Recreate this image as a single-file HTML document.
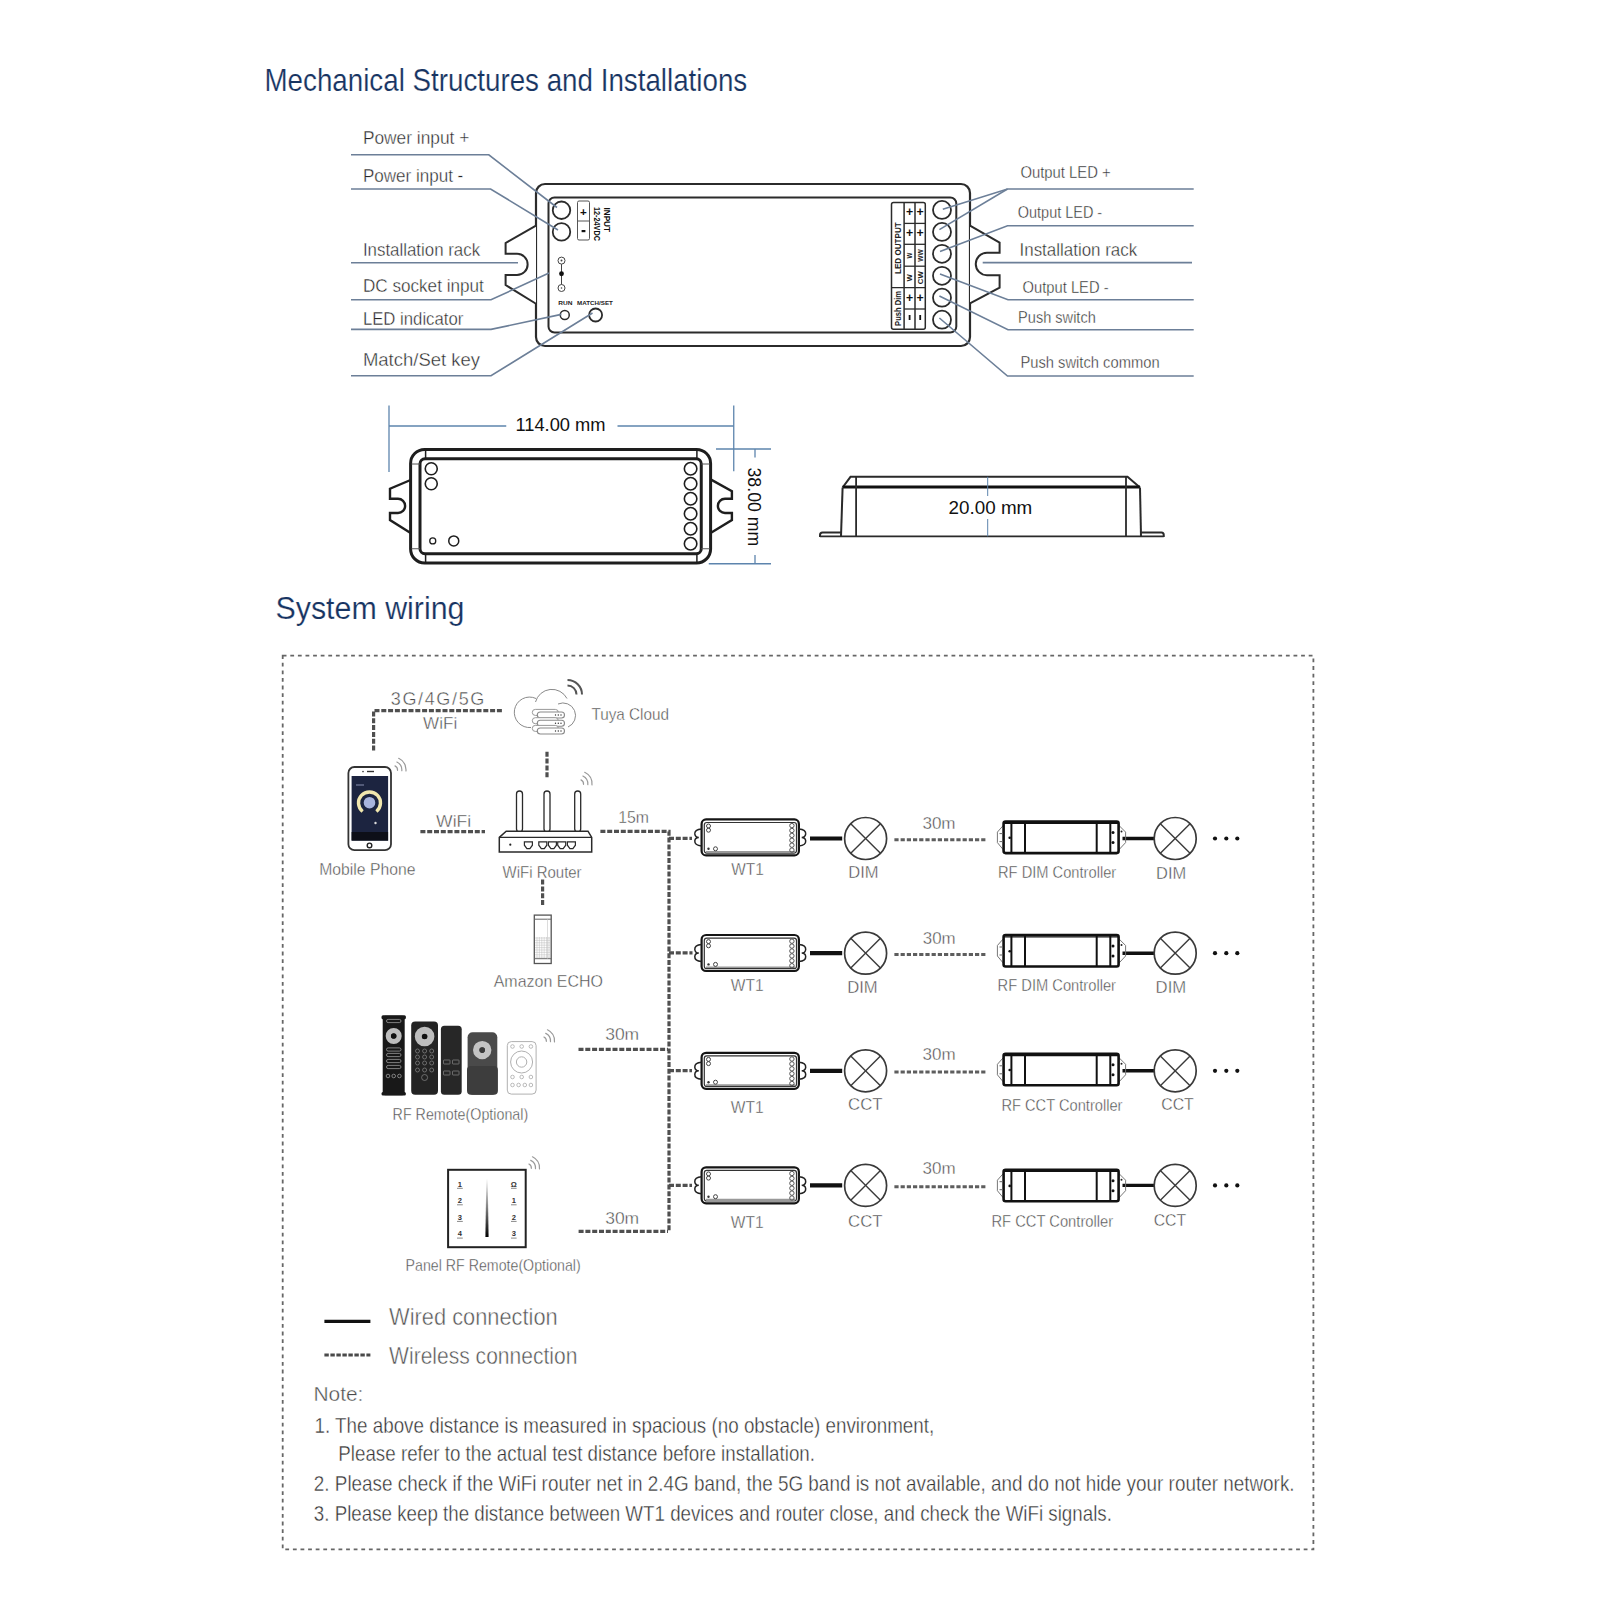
<!DOCTYPE html>
<html><head><meta charset="utf-8"><title>Mechanical Structures and System wiring</title>
<style>
html,body{margin:0;padding:0;background:#fff;}
body{width:1600px;height:1599px;overflow:hidden;}
svg{display:block;font-family:"Liberation Sans",sans-serif;}
</style></head><body>
<svg width="1600" height="1599" viewBox="0 0 1600 1599">
<rect x="0" y="0" width="1600" height="1599" fill="#fff"/>
<text x="264.5" y="90.6" font-size="31.10" fill="#173462" font-weight="normal" text-anchor="start" textLength="482.7" lengthAdjust="spacingAndGlyphs" stroke="#fff" stroke-width="0.2" >Mechanical Structures and Installations</text>
<text x="275.5" y="619.1" font-size="30.67" fill="#173462" font-weight="normal" text-anchor="start" textLength="189.0" lengthAdjust="spacingAndGlyphs" stroke="#fff" stroke-width="0.2" >System wiring</text>
<text x="362.9" y="144.4" font-size="18.90" fill="#262626" font-weight="normal" text-anchor="start" textLength="106.4" lengthAdjust="spacingAndGlyphs" stroke="#fff" stroke-width="0.4" >Power input +</text>
<text x="362.9" y="181.9" font-size="18.90" fill="#262626" font-weight="normal" text-anchor="start" textLength="100.4" lengthAdjust="spacingAndGlyphs" stroke="#fff" stroke-width="0.4" >Power input -</text>
<text x="362.9" y="255.7" font-size="18.90" fill="#262626" font-weight="normal" text-anchor="start" textLength="117.2" lengthAdjust="spacingAndGlyphs" stroke="#fff" stroke-width="0.4" >Installation rack</text>
<text x="362.9" y="292.3" font-size="18.90" fill="#262626" font-weight="normal" text-anchor="start" textLength="120.9" lengthAdjust="spacingAndGlyphs" stroke="#fff" stroke-width="0.4" >DC socket input</text>
<text x="362.9" y="325.3" font-size="18.90" fill="#262626" font-weight="normal" text-anchor="start" textLength="100.4" lengthAdjust="spacingAndGlyphs" stroke="#fff" stroke-width="0.4" >LED indicator</text>
<text x="362.9" y="366.0" font-size="18.90" fill="#262626" font-weight="normal" text-anchor="start" textLength="117.2" lengthAdjust="spacingAndGlyphs" stroke="#fff" stroke-width="0.4" >Match/Set key</text>
<text x="1020.4" y="178.2" font-size="17.15" fill="#262626" font-weight="normal" text-anchor="start" textLength="90.4" lengthAdjust="spacingAndGlyphs" stroke="#fff" stroke-width="0.4" >Output LED +</text>
<text x="1017.8" y="218.3" font-size="17.15" fill="#262626" font-weight="normal" text-anchor="start" textLength="84.4" lengthAdjust="spacingAndGlyphs" stroke="#fff" stroke-width="0.4" >Output LED -</text>
<text x="1019.5" y="255.8" font-size="18.90" fill="#262626" font-weight="normal" text-anchor="start" textLength="117.7" lengthAdjust="spacingAndGlyphs" stroke="#fff" stroke-width="0.4" >Installation rack</text>
<text x="1022.6" y="293.4" font-size="17.15" fill="#262626" font-weight="normal" text-anchor="start" textLength="86.0" lengthAdjust="spacingAndGlyphs" stroke="#fff" stroke-width="0.4" >Output LED -</text>
<text x="1018.1" y="323.4" font-size="17.15" fill="#262626" font-weight="normal" text-anchor="start" textLength="77.7" lengthAdjust="spacingAndGlyphs" stroke="#fff" stroke-width="0.4" >Push switch</text>
<text x="1020.4" y="367.7" font-size="17.15" fill="#262626" font-weight="normal" text-anchor="start" textLength="139.2" lengthAdjust="spacingAndGlyphs" stroke="#fff" stroke-width="0.4" >Push switch common</text>
<rect x="536" y="184" width="434" height="162" rx="9" stroke="#2b2b2b" stroke-width="2.2" fill="none" />
<rect x="548.5" y="197.5" width="407.8" height="135" rx="6" stroke="#2b2b2b" stroke-width="2.0" fill="none" />
<path d="M536,225.6 L505.6,243 L505.6,253.75 L517,253.75 A10.6,10.6 0 0 1 517,275 L505.6,275 L505.6,285 L536,303.75" stroke="#2b2b2b" stroke-width="2.0" fill="#fff" />
<path d="M970,225.7 L999.6,242.6 L999.6,252.7 L987,252.7 A11.25,11.25 0 0 0 987,275.2 L999.6,275.2 L999.6,287.6 L970,303.4" stroke="#2b2b2b" stroke-width="2.0" fill="#fff" />
<circle cx="561.5" cy="210.25" r="8.75" stroke="#2b2b2b" stroke-width="1.8" fill="none" />
<circle cx="561.5" cy="231.9" r="8.75" stroke="#2b2b2b" stroke-width="1.8" fill="none" />
<rect x="577.5" y="201" width="12" height="39" rx="1.5" stroke="#555" stroke-width="1.0" fill="none" />
<line x1="577.5" y1="221" x2="589.5" y2="221" stroke="#555" stroke-width="1.0" />
<text x="583.5" y="215.5" font-size="11.63" fill="#111" font-weight="bold" text-anchor="middle" >+</text>
<rect x="581.6" y="230" width="3.8" height="2.2" rx="0" stroke="none" stroke-width="0" fill="#111" />
<text transform="translate(604.4,207.5) rotate(90)" x="0" y="0" font-size="8.14" fill="#111" font-weight="bold" textLength="24.5" lengthAdjust="spacingAndGlyphs">INPUT</text>
<text transform="translate(593.8,207.0) rotate(90)" x="0" y="0" font-size="8.14" fill="#111" font-weight="bold" textLength="34.0" lengthAdjust="spacingAndGlyphs">12-24VDC</text>
<circle cx="561.5" cy="260.6" r="3.5" stroke="#444" stroke-width="1.0" fill="none" />
<circle cx="561.5" cy="260.6" r="1.0" stroke="none" stroke-width="0" fill="#444" />
<circle cx="561.5" cy="288" r="3.5" stroke="#444" stroke-width="1.0" fill="none" />
<circle cx="561.5" cy="288" r="0.8" stroke="none" stroke-width="0" fill="#444" />
<line x1="561.5" y1="264.1" x2="561.5" y2="284.5" stroke="#444" stroke-width="1.0" />
<circle cx="561.5" cy="273.75" r="2.4" stroke="none" stroke-width="0" fill="#111" />
<text x="558.2" y="305.2" font-size="6.25" fill="#222" font-weight="bold" text-anchor="start" textLength="14.2" lengthAdjust="spacingAndGlyphs" >RUN</text>
<text x="577.0" y="305.2" font-size="6.25" fill="#222" font-weight="bold" text-anchor="start" textLength="35.9" lengthAdjust="spacingAndGlyphs" >MATCH/SET</text>
<circle cx="564.75" cy="315" r="4.5" stroke="#2b2b2b" stroke-width="1.5" fill="none" />
<circle cx="595.6" cy="315" r="6.5" stroke="#2b2b2b" stroke-width="1.8" fill="none" />
<rect x="891.5" y="202.6" width="33.8" height="126.7" rx="2" stroke="#2b2b2b" stroke-width="1.5" fill="none" />
<line x1="904.1" y1="202.6" x2="904.1" y2="329.3" stroke="#2b2b2b" stroke-width="1.5" />
<line x1="915" y1="202.6" x2="915" y2="329.3" stroke="#2b2b2b" stroke-width="1.5" />
<line x1="904.1" y1="223.4" x2="925.3" y2="223.4" stroke="#2b2b2b" stroke-width="1.3" />
<line x1="904.1" y1="244.3" x2="925.3" y2="244.3" stroke="#2b2b2b" stroke-width="1.3" />
<line x1="904.1" y1="266.2" x2="925.3" y2="266.2" stroke="#2b2b2b" stroke-width="1.3" />
<line x1="904.1" y1="309" x2="925.3" y2="309" stroke="#2b2b2b" stroke-width="1.3" />
<line x1="891.5" y1="287.6" x2="925.3" y2="287.6" stroke="#2b2b2b" stroke-width="1.3" />
<text x="909.6" y="216.2" font-size="12.35" fill="#111" font-weight="bold" text-anchor="middle" >+</text>
<text x="909.6" y="237.2" font-size="12.35" fill="#111" font-weight="bold" text-anchor="middle" >+</text>
<text x="909.6" y="301.5" font-size="12.35" fill="#111" font-weight="bold" text-anchor="middle" >+</text>
<rect x="908.7" y="315" width="1.8" height="5" rx="0" stroke="none" stroke-width="0" fill="#111" />
<text x="920.2" y="216.2" font-size="12.35" fill="#111" font-weight="bold" text-anchor="middle" >+</text>
<text x="920.2" y="237.2" font-size="12.35" fill="#111" font-weight="bold" text-anchor="middle" >+</text>
<text x="920.2" y="301.5" font-size="12.35" fill="#111" font-weight="bold" text-anchor="middle" >+</text>
<rect x="919.3000000000001" y="315" width="1.8" height="5" rx="0" stroke="none" stroke-width="0" fill="#111" />
<text transform="translate(901.1,274.0) rotate(-90)" x="0" y="0" font-size="8.14" fill="#222" font-weight="bold" textLength="51.7" lengthAdjust="spacingAndGlyphs">LED OUTPUT</text>
<text transform="translate(901.1,325.9) rotate(-90)" x="0" y="0" font-size="8.14" fill="#222" font-weight="bold" textLength="34.9" lengthAdjust="spacingAndGlyphs">Push Dim</text>
<text transform="translate(912.4,258.5) rotate(-90)" x="0" y="0" font-size="7.56" fill="#222" font-weight="bold" textLength="5.8" lengthAdjust="spacingAndGlyphs">W</text>
<text transform="translate(912.4,281.4) rotate(-90)" x="0" y="0" font-size="7.56" fill="#222" font-weight="bold" textLength="7.3" lengthAdjust="spacingAndGlyphs">W</text>
<text transform="translate(923.0,261.7) rotate(-90)" x="0" y="0" font-size="7.85" fill="#222" font-weight="bold" textLength="12.4" lengthAdjust="spacingAndGlyphs">WW</text>
<text transform="translate(923.0,284.2) rotate(-90)" x="0" y="0" font-size="7.85" fill="#222" font-weight="bold" textLength="12.9" lengthAdjust="spacingAndGlyphs">CW</text>
<circle cx="942" cy="209.9" r="9" stroke="#2b2b2b" stroke-width="1.8" fill="none" />
<circle cx="942" cy="231.9" r="9" stroke="#2b2b2b" stroke-width="1.8" fill="none" />
<circle cx="942" cy="253.8" r="9" stroke="#2b2b2b" stroke-width="1.8" fill="none" />
<circle cx="942" cy="275.8" r="9" stroke="#2b2b2b" stroke-width="1.8" fill="none" />
<circle cx="942" cy="297.7" r="9" stroke="#2b2b2b" stroke-width="1.8" fill="none" />
<circle cx="942" cy="319.7" r="9" stroke="#2b2b2b" stroke-width="1.8" fill="none" />
<path d="M351,154.8 L488.8,154.8 L557,207.5" stroke="#6c7f98" stroke-width="1.6" fill="none" />
<path d="M351,189 L490.6,189 L558,230" stroke="#6c7f98" stroke-width="1.6" fill="none" />
<path d="M351,262.8 L518,262.8" stroke="#6c7f98" stroke-width="1.6" fill="none" />
<path d="M351,299.8 L491,299.8 L549,273" stroke="#6c7f98" stroke-width="1.6" fill="none" />
<path d="M351,329.4 L491,329.4 L561.4,314.4" stroke="#6c7f98" stroke-width="1.6" fill="none" />
<path d="M351,375.7 L491,375.7 L592.5,313" stroke="#6c7f98" stroke-width="1.6" fill="none" />
<path d="M942.8,209.3 L1007.5,189 L1193.7,189" stroke="#6c7f98" stroke-width="1.6" fill="none" />
<path d="M939.4,229.6 L1007.5,189" stroke="#6c7f98" stroke-width="1.6" fill="none" />
<path d="M940,251.6 L1007.5,225.8 L1193.7,225.8" stroke="#6c7f98" stroke-width="1.6" fill="none" />
<path d="M982.7,262.6 L1192,262.6" stroke="#6c7f98" stroke-width="1.6" fill="none" />
<path d="M940,274.1 L1008,299.7 L1193.7,299.7" stroke="#6c7f98" stroke-width="1.6" fill="none" />
<path d="M939.4,296 L1008,329.7 L1193.7,329.7" stroke="#6c7f98" stroke-width="1.6" fill="none" />
<path d="M939.4,318 L1007.5,376 L1193.7,376" stroke="#6c7f98" stroke-width="1.6" fill="none" />
<path d="M389,405.6 L389,471.9" stroke="#5d84ad" stroke-width="1.3" fill="none" />
<path d="M733.75,405.6 L733.75,471.25" stroke="#5d84ad" stroke-width="1.3" fill="none" />
<path d="M389,426 L506.25,426" stroke="#5d84ad" stroke-width="1.3" fill="none" />
<path d="M617.5,426 L733.75,426" stroke="#5d84ad" stroke-width="1.3" fill="none" />
<path d="M716,449 L771,449" stroke="#5d84ad" stroke-width="1.3" fill="none" />
<path d="M708.75,563.75 L771,563.75" stroke="#5d84ad" stroke-width="1.3" fill="none" />
<path d="M755,449 L755,457.5" stroke="#5d84ad" stroke-width="1.3" fill="none" />
<path d="M755,555 L755,563.75" stroke="#5d84ad" stroke-width="1.3" fill="none" />
<text x="515.4" y="431.2" font-size="18.17" fill="#111" font-weight="normal" text-anchor="start" textLength="90.2" lengthAdjust="spacingAndGlyphs" >114.00 mm</text>
<text transform="translate(748.0,467.5) rotate(90)" x="0" y="0" font-size="18.17" fill="#111" font-weight="normal" textLength="78.8" lengthAdjust="spacingAndGlyphs">38.00 mm</text>
<rect x="410.6" y="449.4" width="300" height="113.6" rx="14" stroke="#1e1e1e" stroke-width="3.0" fill="none" />
<rect x="420" y="458.75" width="281.25" height="95" rx="5" stroke="#1e1e1e" stroke-width="3.0" fill="none" />
<line x1="425.6" y1="449.4" x2="425.6" y2="458.75" stroke="#1e1e1e" stroke-width="1.5" />
<line x1="425.6" y1="553.75" x2="425.6" y2="563" stroke="#1e1e1e" stroke-width="1.5" />
<line x1="696.9" y1="449.4" x2="696.9" y2="458.75" stroke="#1e1e1e" stroke-width="1.5" />
<line x1="696.9" y1="553.75" x2="696.9" y2="563" stroke="#1e1e1e" stroke-width="1.5" />
<line x1="411.5" y1="464" x2="420" y2="464" stroke="#555" stroke-width="1.0" />
<line x1="411.5" y1="548.75" x2="420" y2="548.75" stroke="#555" stroke-width="1.0" />
<line x1="701.25" y1="464" x2="709.7" y2="464" stroke="#555" stroke-width="1.0" />
<line x1="701.25" y1="548.75" x2="709.7" y2="548.75" stroke="#555" stroke-width="1.0" />
<circle cx="431.25" cy="468.75" r="6" stroke="#1e1e1e" stroke-width="1.6" fill="none" />
<circle cx="431.25" cy="483.75" r="6" stroke="#1e1e1e" stroke-width="1.6" fill="none" />
<circle cx="432.75" cy="540.9" r="3" stroke="#1e1e1e" stroke-width="1.3" fill="none" />
<circle cx="453.75" cy="540.9" r="5" stroke="#1e1e1e" stroke-width="1.5" fill="none" />
<circle cx="690.6" cy="468.75" r="6.25" stroke="#1e1e1e" stroke-width="1.6" fill="none" />
<circle cx="690.6" cy="483.75" r="6.25" stroke="#1e1e1e" stroke-width="1.6" fill="none" />
<circle cx="690.6" cy="498.75" r="6.25" stroke="#1e1e1e" stroke-width="1.6" fill="none" />
<circle cx="690.6" cy="513.75" r="6.25" stroke="#1e1e1e" stroke-width="1.6" fill="none" />
<circle cx="690.6" cy="528.75" r="6.25" stroke="#1e1e1e" stroke-width="1.6" fill="none" />
<circle cx="690.6" cy="543.75" r="6.25" stroke="#1e1e1e" stroke-width="1.6" fill="none" />
<path d="M410.6,480 L390,488.75 L390,498.75 L398,498.75 A7.1,7.1 0 0 1 398,513 L390,513 L390,520 L410.6,533" stroke="#1e1e1e" stroke-width="2.4" fill="none" />
<path d="M710.6,479.4 L731.9,491.25 L731.9,498.75 L725,498.75 A7.1,7.1 0 0 0 725,513 L731.9,513 L731.9,520 L710.6,533" stroke="#1e1e1e" stroke-width="2.4" fill="none" />
<path d="M842.6,487.5 L850.5,476.8 L1127.5,476.8 L1140,487.5" stroke="#2a2a2a" stroke-width="2.0" fill="none" />
<line x1="842.6" y1="487" x2="1140" y2="487" stroke="#111" stroke-width="3.2" />
<path d="M842.6,487.5 L841,536.4" stroke="#2a2a2a" stroke-width="2.0" fill="none" />
<path d="M1140,487.5 L1141,536.4" stroke="#2a2a2a" stroke-width="2.0" fill="none" />
<line x1="820" y1="536.4" x2="1163.75" y2="536.4" stroke="#2a2a2a" stroke-width="1.6" />
<line x1="856.1" y1="476.8" x2="856.1" y2="536.4" stroke="#2a2a2a" stroke-width="1.8" />
<line x1="1126" y1="476.8" x2="1126" y2="536.4" stroke="#2a2a2a" stroke-width="1.8" />
<path d="M841,532.5 L822.5,532.5 Q820,532.5 820,535 L820,537" stroke="#2a2a2a" stroke-width="2.0" fill="none" />
<path d="M1141,532.5 L1161.5,532.5 Q1163.75,532.5 1163.75,535 L1163.75,537" stroke="#2a2a2a" stroke-width="2.0" fill="none" />
<line x1="987.7" y1="476.8" x2="987.7" y2="496" stroke="#5d84ad" stroke-width="1.0" />
<line x1="987.7" y1="519" x2="987.7" y2="536.4" stroke="#5d84ad" stroke-width="1.0" />
<text x="948.6" y="513.6" font-size="17.73" fill="#111" font-weight="normal" text-anchor="start" textLength="83.7" lengthAdjust="spacingAndGlyphs" >20.00 mm</text>
<rect x="282.7" y="655.6" width="1030.7" height="893.8000000000001" rx="0" stroke="#666" stroke-width="1.8" fill="none" stroke-dasharray="3.8 3.8"/>
<path d="M373.6,750.5 L373.6,710.6 L502,710.6" stroke="#4f4f4f" stroke-width="3.2" fill="none" stroke-dasharray="5 1.8"/>
<path d="M547,751.8 L547,777.3" stroke="#4f4f4f" stroke-width="3.2" fill="none" stroke-dasharray="5 1.8"/>
<path d="M420.4,831.6 L485,831.6" stroke="#4f4f4f" stroke-width="3.2" fill="none" stroke-dasharray="5 1.8"/>
<path d="M600.4,831.4 L669,831.4 L669,1230.7" stroke="#4f4f4f" stroke-width="3.2" fill="none" stroke-dasharray="5 1.8"/>
<path d="M542.6,879.6 L542.6,906.5" stroke="#4f4f4f" stroke-width="3.2" fill="none" stroke-dasharray="5 1.8"/>
<path d="M669,838.4 L692,838.4" stroke="#4f4f4f" stroke-width="3.2" fill="none" stroke-dasharray="5 1.8"/>
<path d="M669,952.8 L692.5,952.8" stroke="#4f4f4f" stroke-width="3.2" fill="none" stroke-dasharray="5 1.8"/>
<path d="M669,1070.6 L692,1070.6" stroke="#4f4f4f" stroke-width="3.2" fill="none" stroke-dasharray="5 1.8"/>
<path d="M669,1185.3 L692,1185.3" stroke="#4f4f4f" stroke-width="3.2" fill="none" stroke-dasharray="5 1.8"/>
<path d="M578.5,1049.3 L668,1049.3" stroke="#4f4f4f" stroke-width="3.2" fill="none" stroke-dasharray="5 1.8"/>
<path d="M578.6,1231.4 L668,1231.4" stroke="#4f4f4f" stroke-width="3.2" fill="none" stroke-dasharray="5 1.8"/>
<path d="M894.4,839.8 L985.6,839.8" stroke="#5e5e5e" stroke-width="3.0" fill="none" stroke-dasharray="4.2 2"/>
<line x1="810" y1="838.5" x2="842.2" y2="838.5" stroke="#111" stroke-width="4.2" />
<line x1="1122.5" y1="838.5" x2="1154.4" y2="838.5" stroke="#111" stroke-width="3.4" />
<circle cx="865.6" cy="838.5" r="21" stroke="#3a3a3a" stroke-width="1.7" fill="none" />
<line x1="850.75" y1="823.65" x2="880.45" y2="853.35" stroke="#3a3a3a" stroke-width="1.4" />
<line x1="850.75" y1="853.35" x2="880.45" y2="823.65" stroke="#3a3a3a" stroke-width="1.4" />
<circle cx="1175.2" cy="838.5" r="21" stroke="#3a3a3a" stroke-width="1.7" fill="none" />
<line x1="1160.3500000000001" y1="823.65" x2="1190.05" y2="853.35" stroke="#3a3a3a" stroke-width="1.4" />
<line x1="1160.3500000000001" y1="853.35" x2="1190.05" y2="823.65" stroke="#3a3a3a" stroke-width="1.4" />
<circle cx="1215" cy="838.5" r="2.1" stroke="none" stroke-width="0" fill="#111" />
<circle cx="1226.3" cy="838.5" r="2.1" stroke="none" stroke-width="0" fill="#111" />
<circle cx="1237.3" cy="838.5" r="2.1" stroke="none" stroke-width="0" fill="#111" />
<rect x="701.6" y="819.4" width="97.3" height="36" rx="4.5" stroke="#151515" stroke-width="2.2" fill="#fff" />
<rect x="704.3" y="822.5" width="92.2" height="30.6" rx="2.5" stroke="#333" stroke-width="1.2" fill="none" />
<line x1="706" y1="851.6999999999999" x2="795" y2="851.6999999999999" stroke="#999" stroke-width="1.6" />
<path d="M701.6,828.9 Q694.5,829.4 694.8,833.9 Q695.2,837.4 698.8,837.4 Q695.2,837.4 694.8,840.9 Q694.5,845.4 701.6,845.9" stroke="#222" stroke-width="1.5" fill="none" />
<path d="M798.9,828.9 Q806,829.4 805.7,833.9 Q805.3,837.4 801.7,837.4 Q805.3,837.4 805.7,840.9 Q806,845.4 798.9,845.9" stroke="#222" stroke-width="1.5" fill="none" />
<circle cx="708.5" cy="826.0" r="2.0" stroke="#444" stroke-width="1.0" fill="none" />
<circle cx="708.5" cy="830.1999999999999" r="2.0" stroke="#444" stroke-width="1.0" fill="none" />
<circle cx="791.9" cy="825.6" r="2.2" stroke="#555" stroke-width="1.0" fill="none" />
<circle cx="791.9" cy="830.5" r="2.2" stroke="#555" stroke-width="1.0" fill="none" />
<circle cx="791.9" cy="835.4" r="2.2" stroke="#555" stroke-width="1.0" fill="none" />
<circle cx="791.9" cy="840.3000000000001" r="2.2" stroke="#555" stroke-width="1.0" fill="none" />
<circle cx="791.9" cy="845.2" r="2.2" stroke="#555" stroke-width="1.0" fill="none" />
<circle cx="791.9" cy="850.1" r="2.2" stroke="#555" stroke-width="1.0" fill="none" />
<circle cx="708.5" cy="848.8" r="1.2" stroke="none" stroke-width="0" fill="#333" />
<circle cx="715.5" cy="848.8" r="2.0" stroke="#444" stroke-width="1.0" fill="none" />
<path d="M1003.6,825.1 L997.4,832.1 L997.4,842.6 L1003.6,850.1" stroke="#777" stroke-width="1.0" fill="none" />
<path d="M1118.6,825.1 L1125.6,832.1 L1125.6,842.6 L1118.6,850.1" stroke="#777" stroke-width="1.0" fill="none" />
<rect x="1003.6" y="821.6" width="115" height="31.5" rx="2" stroke="#111" stroke-width="2.6" fill="#fff" />
<line x1="1004" y1="823.4" x2="1118" y2="823.4" stroke="#111" stroke-width="1.2" />
<line x1="1011.4" y1="821.6" x2="1011.4" y2="853.1" stroke="#111" stroke-width="2.0" />
<line x1="1025" y1="821.6" x2="1025" y2="853.1" stroke="#111" stroke-width="2.0" />
<line x1="1096.7" y1="821.6" x2="1096.7" y2="853.1" stroke="#111" stroke-width="2.0" />
<line x1="1110.3" y1="821.6" x2="1110.3" y2="853.1" stroke="#111" stroke-width="2.0" />
<circle cx="1113" cy="832.6" r="1.5" stroke="none" stroke-width="0" fill="#111" />
<circle cx="1113" cy="842.6" r="1.5" stroke="none" stroke-width="0" fill="#111" />
<circle cx="1009.7" cy="837.8000000000001" r="1.3" stroke="none" stroke-width="0" fill="#111" />
<circle cx="1121.5" cy="831.6" r="1.0" stroke="none" stroke-width="0" fill="#222" />
<line x1="999.5" y1="833.6" x2="1003" y2="833.6" stroke="#666" stroke-width="1.0" />
<line x1="999.5" y1="841.6" x2="1003" y2="841.6" stroke="#666" stroke-width="1.0" />
<path d="M894.4,954.5 L985.6,954.5" stroke="#5e5e5e" stroke-width="3.0" fill="none" stroke-dasharray="4.2 2"/>
<line x1="810" y1="953.2" x2="842.2" y2="953.2" stroke="#111" stroke-width="4.2" />
<line x1="1122.5" y1="953.2" x2="1154.4" y2="953.2" stroke="#111" stroke-width="3.4" />
<circle cx="865.6" cy="953.2" r="21" stroke="#3a3a3a" stroke-width="1.7" fill="none" />
<line x1="850.75" y1="938.35" x2="880.45" y2="968.0500000000001" stroke="#3a3a3a" stroke-width="1.4" />
<line x1="850.75" y1="968.0500000000001" x2="880.45" y2="938.35" stroke="#3a3a3a" stroke-width="1.4" />
<circle cx="1175.2" cy="953.2" r="21" stroke="#3a3a3a" stroke-width="1.7" fill="none" />
<line x1="1160.3500000000001" y1="938.35" x2="1190.05" y2="968.0500000000001" stroke="#3a3a3a" stroke-width="1.4" />
<line x1="1160.3500000000001" y1="968.0500000000001" x2="1190.05" y2="938.35" stroke="#3a3a3a" stroke-width="1.4" />
<circle cx="1215" cy="953.2" r="2.1" stroke="none" stroke-width="0" fill="#111" />
<circle cx="1226.3" cy="953.2" r="2.1" stroke="none" stroke-width="0" fill="#111" />
<circle cx="1237.3" cy="953.2" r="2.1" stroke="none" stroke-width="0" fill="#111" />
<rect x="701.6" y="935.0" width="97.3" height="36" rx="4.5" stroke="#151515" stroke-width="2.2" fill="#fff" />
<rect x="704.3" y="938.1" width="92.2" height="30.6" rx="2.5" stroke="#333" stroke-width="1.2" fill="none" />
<line x1="706" y1="967.3" x2="795" y2="967.3" stroke="#999" stroke-width="1.6" />
<path d="M701.6,944.5 Q694.5,945.0 694.8,949.5 Q695.2,953.0 698.8,953.0 Q695.2,953.0 694.8,956.5 Q694.5,961.0 701.6,961.5" stroke="#222" stroke-width="1.5" fill="none" />
<path d="M798.9,944.5 Q806,945.0 805.7,949.5 Q805.3,953.0 801.7,953.0 Q805.3,953.0 805.7,956.5 Q806,961.0 798.9,961.5" stroke="#222" stroke-width="1.5" fill="none" />
<circle cx="708.5" cy="941.6" r="2.0" stroke="#444" stroke-width="1.0" fill="none" />
<circle cx="708.5" cy="945.8" r="2.0" stroke="#444" stroke-width="1.0" fill="none" />
<circle cx="791.9" cy="941.2" r="2.2" stroke="#555" stroke-width="1.0" fill="none" />
<circle cx="791.9" cy="946.1" r="2.2" stroke="#555" stroke-width="1.0" fill="none" />
<circle cx="791.9" cy="951.0" r="2.2" stroke="#555" stroke-width="1.0" fill="none" />
<circle cx="791.9" cy="955.9000000000001" r="2.2" stroke="#555" stroke-width="1.0" fill="none" />
<circle cx="791.9" cy="960.8000000000001" r="2.2" stroke="#555" stroke-width="1.0" fill="none" />
<circle cx="791.9" cy="965.7" r="2.2" stroke="#555" stroke-width="1.0" fill="none" />
<circle cx="708.5" cy="964.4" r="1.2" stroke="none" stroke-width="0" fill="#333" />
<circle cx="715.5" cy="964.4" r="2.0" stroke="#444" stroke-width="1.0" fill="none" />
<path d="M1003.6,938.5 L997.4,945.5 L997.4,956.0 L1003.6,963.5" stroke="#777" stroke-width="1.0" fill="none" />
<path d="M1118.6,938.5 L1125.6,945.5 L1125.6,956.0 L1118.6,963.5" stroke="#777" stroke-width="1.0" fill="none" />
<rect x="1003.6" y="935.0" width="115" height="31.5" rx="2" stroke="#111" stroke-width="2.6" fill="#fff" />
<line x1="1004" y1="936.8" x2="1118" y2="936.8" stroke="#111" stroke-width="1.2" />
<line x1="1011.4" y1="935.0" x2="1011.4" y2="966.5" stroke="#111" stroke-width="2.0" />
<line x1="1025" y1="935.0" x2="1025" y2="966.5" stroke="#111" stroke-width="2.0" />
<line x1="1096.7" y1="935.0" x2="1096.7" y2="966.5" stroke="#111" stroke-width="2.0" />
<line x1="1110.3" y1="935.0" x2="1110.3" y2="966.5" stroke="#111" stroke-width="2.0" />
<circle cx="1113" cy="946.0" r="1.5" stroke="none" stroke-width="0" fill="#111" />
<circle cx="1113" cy="956.0" r="1.5" stroke="none" stroke-width="0" fill="#111" />
<circle cx="1009.7" cy="951.2" r="1.3" stroke="none" stroke-width="0" fill="#111" />
<circle cx="1121.5" cy="945.0" r="1.0" stroke="none" stroke-width="0" fill="#222" />
<line x1="999.5" y1="947.0" x2="1003" y2="947.0" stroke="#666" stroke-width="1.0" />
<line x1="999.5" y1="955.0" x2="1003" y2="955.0" stroke="#666" stroke-width="1.0" />
<path d="M894.4,1072.1 L985.6,1072.1" stroke="#5e5e5e" stroke-width="3.0" fill="none" stroke-dasharray="4.2 2"/>
<line x1="810" y1="1070.8" x2="842.2" y2="1070.8" stroke="#111" stroke-width="4.2" />
<line x1="1122.5" y1="1070.8" x2="1154.4" y2="1070.8" stroke="#111" stroke-width="3.4" />
<circle cx="865.6" cy="1070.8" r="21" stroke="#3a3a3a" stroke-width="1.7" fill="none" />
<line x1="850.75" y1="1055.95" x2="880.45" y2="1085.6499999999999" stroke="#3a3a3a" stroke-width="1.4" />
<line x1="850.75" y1="1085.6499999999999" x2="880.45" y2="1055.95" stroke="#3a3a3a" stroke-width="1.4" />
<circle cx="1175.2" cy="1070.8" r="21" stroke="#3a3a3a" stroke-width="1.7" fill="none" />
<line x1="1160.3500000000001" y1="1055.95" x2="1190.05" y2="1085.6499999999999" stroke="#3a3a3a" stroke-width="1.4" />
<line x1="1160.3500000000001" y1="1085.6499999999999" x2="1190.05" y2="1055.95" stroke="#3a3a3a" stroke-width="1.4" />
<circle cx="1215" cy="1070.8" r="2.1" stroke="none" stroke-width="0" fill="#111" />
<circle cx="1226.3" cy="1070.8" r="2.1" stroke="none" stroke-width="0" fill="#111" />
<circle cx="1237.3" cy="1070.8" r="2.1" stroke="none" stroke-width="0" fill="#111" />
<rect x="701.6" y="1052.8" width="97.3" height="36" rx="4.5" stroke="#151515" stroke-width="2.2" fill="#fff" />
<rect x="704.3" y="1055.8999999999999" width="92.2" height="30.6" rx="2.5" stroke="#333" stroke-width="1.2" fill="none" />
<line x1="706" y1="1085.1" x2="795" y2="1085.1" stroke="#999" stroke-width="1.6" />
<path d="M701.6,1062.3 Q694.5,1062.8 694.8,1067.3 Q695.2,1070.8 698.8,1070.8 Q695.2,1070.8 694.8,1074.3 Q694.5,1078.8 701.6,1079.3" stroke="#222" stroke-width="1.5" fill="none" />
<path d="M798.9,1062.3 Q806,1062.8 805.7,1067.3 Q805.3,1070.8 801.7,1070.8 Q805.3,1070.8 805.7,1074.3 Q806,1078.8 798.9,1079.3" stroke="#222" stroke-width="1.5" fill="none" />
<circle cx="708.5" cy="1059.3999999999999" r="2.0" stroke="#444" stroke-width="1.0" fill="none" />
<circle cx="708.5" cy="1063.6" r="2.0" stroke="#444" stroke-width="1.0" fill="none" />
<circle cx="791.9" cy="1059.0" r="2.2" stroke="#555" stroke-width="1.0" fill="none" />
<circle cx="791.9" cy="1063.9" r="2.2" stroke="#555" stroke-width="1.0" fill="none" />
<circle cx="791.9" cy="1068.8" r="2.2" stroke="#555" stroke-width="1.0" fill="none" />
<circle cx="791.9" cy="1073.7" r="2.2" stroke="#555" stroke-width="1.0" fill="none" />
<circle cx="791.9" cy="1078.6" r="2.2" stroke="#555" stroke-width="1.0" fill="none" />
<circle cx="791.9" cy="1083.5" r="2.2" stroke="#555" stroke-width="1.0" fill="none" />
<circle cx="708.5" cy="1082.2" r="1.2" stroke="none" stroke-width="0" fill="#333" />
<circle cx="715.5" cy="1082.2" r="2.0" stroke="#444" stroke-width="1.0" fill="none" />
<path d="M1003.6,1057.3 L997.4,1064.3 L997.4,1074.8 L1003.6,1082.3" stroke="#777" stroke-width="1.0" fill="none" />
<path d="M1118.6,1057.3 L1125.6,1064.3 L1125.6,1074.8 L1118.6,1082.3" stroke="#777" stroke-width="1.0" fill="none" />
<rect x="1003.6" y="1053.8" width="115" height="31.5" rx="2" stroke="#111" stroke-width="2.6" fill="#fff" />
<line x1="1004" y1="1055.6" x2="1118" y2="1055.6" stroke="#111" stroke-width="1.2" />
<line x1="1011.4" y1="1053.8" x2="1011.4" y2="1085.3" stroke="#111" stroke-width="2.0" />
<line x1="1025" y1="1053.8" x2="1025" y2="1085.3" stroke="#111" stroke-width="2.0" />
<line x1="1096.7" y1="1053.8" x2="1096.7" y2="1085.3" stroke="#111" stroke-width="2.0" />
<line x1="1110.3" y1="1053.8" x2="1110.3" y2="1085.3" stroke="#111" stroke-width="2.0" />
<circle cx="1113" cy="1064.8" r="1.5" stroke="none" stroke-width="0" fill="#111" />
<circle cx="1113" cy="1074.8" r="1.5" stroke="none" stroke-width="0" fill="#111" />
<circle cx="1009.7" cy="1070.0" r="1.3" stroke="none" stroke-width="0" fill="#111" />
<circle cx="1121.5" cy="1063.8" r="1.0" stroke="none" stroke-width="0" fill="#222" />
<line x1="999.5" y1="1065.8" x2="1003" y2="1065.8" stroke="#666" stroke-width="1.0" />
<line x1="999.5" y1="1073.8" x2="1003" y2="1073.8" stroke="#666" stroke-width="1.0" />
<path d="M894.4,1186.7 L985.6,1186.7" stroke="#5e5e5e" stroke-width="3.0" fill="none" stroke-dasharray="4.2 2"/>
<line x1="810" y1="1185.4" x2="842.2" y2="1185.4" stroke="#111" stroke-width="4.2" />
<line x1="1122.5" y1="1185.4" x2="1154.4" y2="1185.4" stroke="#111" stroke-width="3.4" />
<circle cx="865.6" cy="1185.4" r="21" stroke="#3a3a3a" stroke-width="1.7" fill="none" />
<line x1="850.75" y1="1170.5500000000002" x2="880.45" y2="1200.25" stroke="#3a3a3a" stroke-width="1.4" />
<line x1="850.75" y1="1200.25" x2="880.45" y2="1170.5500000000002" stroke="#3a3a3a" stroke-width="1.4" />
<circle cx="1175.2" cy="1185.4" r="21" stroke="#3a3a3a" stroke-width="1.7" fill="none" />
<line x1="1160.3500000000001" y1="1170.5500000000002" x2="1190.05" y2="1200.25" stroke="#3a3a3a" stroke-width="1.4" />
<line x1="1160.3500000000001" y1="1200.25" x2="1190.05" y2="1170.5500000000002" stroke="#3a3a3a" stroke-width="1.4" />
<circle cx="1215" cy="1185.4" r="2.1" stroke="none" stroke-width="0" fill="#111" />
<circle cx="1226.3" cy="1185.4" r="2.1" stroke="none" stroke-width="0" fill="#111" />
<circle cx="1237.3" cy="1185.4" r="2.1" stroke="none" stroke-width="0" fill="#111" />
<rect x="701.6" y="1167.3" width="97.3" height="36" rx="4.5" stroke="#151515" stroke-width="2.2" fill="#fff" />
<rect x="704.3" y="1170.3999999999999" width="92.2" height="30.6" rx="2.5" stroke="#333" stroke-width="1.2" fill="none" />
<line x1="706" y1="1199.6" x2="795" y2="1199.6" stroke="#999" stroke-width="1.6" />
<path d="M701.6,1176.8 Q694.5,1177.3 694.8,1181.8 Q695.2,1185.3 698.8,1185.3 Q695.2,1185.3 694.8,1188.8 Q694.5,1193.3 701.6,1193.8" stroke="#222" stroke-width="1.5" fill="none" />
<path d="M798.9,1176.8 Q806,1177.3 805.7,1181.8 Q805.3,1185.3 801.7,1185.3 Q805.3,1185.3 805.7,1188.8 Q806,1193.3 798.9,1193.8" stroke="#222" stroke-width="1.5" fill="none" />
<circle cx="708.5" cy="1173.8999999999999" r="2.0" stroke="#444" stroke-width="1.0" fill="none" />
<circle cx="708.5" cy="1178.1" r="2.0" stroke="#444" stroke-width="1.0" fill="none" />
<circle cx="791.9" cy="1173.5" r="2.2" stroke="#555" stroke-width="1.0" fill="none" />
<circle cx="791.9" cy="1178.4" r="2.2" stroke="#555" stroke-width="1.0" fill="none" />
<circle cx="791.9" cy="1183.3" r="2.2" stroke="#555" stroke-width="1.0" fill="none" />
<circle cx="791.9" cy="1188.2" r="2.2" stroke="#555" stroke-width="1.0" fill="none" />
<circle cx="791.9" cy="1193.1" r="2.2" stroke="#555" stroke-width="1.0" fill="none" />
<circle cx="791.9" cy="1198.0" r="2.2" stroke="#555" stroke-width="1.0" fill="none" />
<circle cx="708.5" cy="1196.7" r="1.2" stroke="none" stroke-width="0" fill="#333" />
<circle cx="715.5" cy="1196.7" r="2.0" stroke="#444" stroke-width="1.0" fill="none" />
<path d="M1003.6,1173.2 L997.4,1180.2 L997.4,1190.7 L1003.6,1198.2" stroke="#777" stroke-width="1.0" fill="none" />
<path d="M1118.6,1173.2 L1125.6,1180.2 L1125.6,1190.7 L1118.6,1198.2" stroke="#777" stroke-width="1.0" fill="none" />
<rect x="1003.6" y="1169.7" width="115" height="31.5" rx="2" stroke="#111" stroke-width="2.6" fill="#fff" />
<line x1="1004" y1="1171.5" x2="1118" y2="1171.5" stroke="#111" stroke-width="1.2" />
<line x1="1011.4" y1="1169.7" x2="1011.4" y2="1201.2" stroke="#111" stroke-width="2.0" />
<line x1="1025" y1="1169.7" x2="1025" y2="1201.2" stroke="#111" stroke-width="2.0" />
<line x1="1096.7" y1="1169.7" x2="1096.7" y2="1201.2" stroke="#111" stroke-width="2.0" />
<line x1="1110.3" y1="1169.7" x2="1110.3" y2="1201.2" stroke="#111" stroke-width="2.0" />
<circle cx="1113" cy="1180.7" r="1.5" stroke="none" stroke-width="0" fill="#111" />
<circle cx="1113" cy="1190.7" r="1.5" stroke="none" stroke-width="0" fill="#111" />
<circle cx="1009.7" cy="1185.9" r="1.3" stroke="none" stroke-width="0" fill="#111" />
<circle cx="1121.5" cy="1179.7" r="1.0" stroke="none" stroke-width="0" fill="#222" />
<line x1="999.5" y1="1181.7" x2="1003" y2="1181.7" stroke="#666" stroke-width="1.0" />
<line x1="999.5" y1="1189.7" x2="1003" y2="1189.7" stroke="#666" stroke-width="1.0" />
<text x="731.3" y="875.0" font-size="17.01" fill="#4a4a4a" font-weight="normal" text-anchor="start" textLength="32.6" lengthAdjust="spacingAndGlyphs" stroke="#fff" stroke-width="0.4" >WT1</text>
<text x="848.3" y="878.0" font-size="17.01" fill="#4a4a4a" font-weight="normal" text-anchor="start" textLength="30.3" lengthAdjust="spacingAndGlyphs" stroke="#fff" stroke-width="0.4" >DIM</text>
<text x="922.4" y="829.4" font-size="17.01" fill="#4a4a4a" font-weight="normal" text-anchor="start" textLength="33.2" lengthAdjust="spacingAndGlyphs" stroke="#fff" stroke-width="0.4" >30m</text>
<text x="998.0" y="878.1" font-size="17.01" fill="#4a4a4a" font-weight="normal" text-anchor="start" textLength="118.2" lengthAdjust="spacingAndGlyphs" stroke="#fff" stroke-width="0.4" >RF DIM Controller</text>
<text x="1156.1" y="879.0" font-size="17.01" fill="#4a4a4a" font-weight="normal" text-anchor="start" textLength="30.1" lengthAdjust="spacingAndGlyphs" stroke="#fff" stroke-width="0.4" >DIM</text>
<text x="730.8" y="991.3" font-size="17.01" fill="#4a4a4a" font-weight="normal" text-anchor="start" textLength="32.9" lengthAdjust="spacingAndGlyphs" stroke="#fff" stroke-width="0.4" >WT1</text>
<text x="847.2" y="992.6" font-size="17.01" fill="#4a4a4a" font-weight="normal" text-anchor="start" textLength="30.5" lengthAdjust="spacingAndGlyphs" stroke="#fff" stroke-width="0.4" >DIM</text>
<text x="922.8" y="943.5" font-size="17.01" fill="#4a4a4a" font-weight="normal" text-anchor="start" textLength="32.9" lengthAdjust="spacingAndGlyphs" stroke="#fff" stroke-width="0.4" >30m</text>
<text x="997.6" y="991.3" font-size="17.01" fill="#4a4a4a" font-weight="normal" text-anchor="start" textLength="118.4" lengthAdjust="spacingAndGlyphs" stroke="#fff" stroke-width="0.4" >RF DIM Controller</text>
<text x="1155.6" y="993.2" font-size="17.01" fill="#4a4a4a" font-weight="normal" text-anchor="start" textLength="30.6" lengthAdjust="spacingAndGlyphs" stroke="#fff" stroke-width="0.4" >DIM</text>
<text x="730.8" y="1112.9" font-size="17.01" fill="#4a4a4a" font-weight="normal" text-anchor="start" textLength="32.9" lengthAdjust="spacingAndGlyphs" stroke="#fff" stroke-width="0.4" >WT1</text>
<text x="848.1" y="1110.4" font-size="17.01" fill="#4a4a4a" font-weight="normal" text-anchor="start" textLength="34.5" lengthAdjust="spacingAndGlyphs" stroke="#fff" stroke-width="0.4" >CCT</text>
<text x="922.6" y="1060.3" font-size="17.01" fill="#4a4a4a" font-weight="normal" text-anchor="start" textLength="33.1" lengthAdjust="spacingAndGlyphs" stroke="#fff" stroke-width="0.4" >30m</text>
<text x="1001.4" y="1111.0" font-size="17.01" fill="#4a4a4a" font-weight="normal" text-anchor="start" textLength="121.1" lengthAdjust="spacingAndGlyphs" stroke="#fff" stroke-width="0.4" >RF CCT Controller</text>
<text x="1161.2" y="1110.0" font-size="17.01" fill="#4a4a4a" font-weight="normal" text-anchor="start" textLength="32.6" lengthAdjust="spacingAndGlyphs" stroke="#fff" stroke-width="0.4" >CCT</text>
<text x="730.8" y="1227.9" font-size="17.01" fill="#4a4a4a" font-weight="normal" text-anchor="start" textLength="32.9" lengthAdjust="spacingAndGlyphs" stroke="#fff" stroke-width="0.4" >WT1</text>
<text x="848.1" y="1227.0" font-size="17.01" fill="#4a4a4a" font-weight="normal" text-anchor="start" textLength="34.5" lengthAdjust="spacingAndGlyphs" stroke="#fff" stroke-width="0.4" >CCT</text>
<text x="922.6" y="1173.5" font-size="17.01" fill="#4a4a4a" font-weight="normal" text-anchor="start" textLength="33.1" lengthAdjust="spacingAndGlyphs" stroke="#fff" stroke-width="0.4" >30m</text>
<text x="991.4" y="1227.0" font-size="17.01" fill="#4a4a4a" font-weight="normal" text-anchor="start" textLength="121.8" lengthAdjust="spacingAndGlyphs" stroke="#fff" stroke-width="0.4" >RF CCT Controller</text>
<text x="1153.7" y="1226.0" font-size="17.01" fill="#4a4a4a" font-weight="normal" text-anchor="start" textLength="32.5" lengthAdjust="spacingAndGlyphs" stroke="#fff" stroke-width="0.4" >CCT</text>
<text x="390.8" y="704.6" font-size="18.02" fill="#4a4a4a" font-weight="normal" text-anchor="start" textLength="93.5" lengthAdjust="spacing" stroke="#fff" stroke-width="0.4" >3G/4G/5G</text>
<text x="423.1" y="729.1" font-size="17.01" fill="#4a4a4a" font-weight="normal" text-anchor="start" textLength="34.1" lengthAdjust="spacingAndGlyphs" stroke="#fff" stroke-width="0.4" >WiFi</text>
<text x="591.4" y="719.5" font-size="17.01" fill="#4a4a4a" font-weight="normal" text-anchor="start" textLength="77.6" lengthAdjust="spacingAndGlyphs" stroke="#fff" stroke-width="0.4" >Tuya Cloud</text>
<text x="319.2" y="875.0" font-size="17.01" fill="#4a4a4a" font-weight="normal" text-anchor="start" textLength="96.2" lengthAdjust="spacingAndGlyphs" stroke="#fff" stroke-width="0.4" >Mobile Phone</text>
<text x="436.1" y="826.8" font-size="17.01" fill="#4a4a4a" font-weight="normal" text-anchor="start" textLength="35.1" lengthAdjust="spacingAndGlyphs" stroke="#fff" stroke-width="0.4" >WiFi</text>
<text x="502.6" y="877.7" font-size="17.01" fill="#4a4a4a" font-weight="normal" text-anchor="start" textLength="79.0" lengthAdjust="spacingAndGlyphs" stroke="#fff" stroke-width="0.4" >WiFi Router</text>
<text x="618.2" y="823.4" font-size="17.01" fill="#4a4a4a" font-weight="normal" text-anchor="start" textLength="30.8" lengthAdjust="spacingAndGlyphs" stroke="#fff" stroke-width="0.4" >15m</text>
<text x="493.7" y="986.9" font-size="17.01" fill="#4a4a4a" font-weight="normal" text-anchor="start" textLength="109.2" lengthAdjust="spacingAndGlyphs" stroke="#fff" stroke-width="0.4" >Amazon ECHO</text>
<text x="392.6" y="1119.6" font-size="17.01" fill="#4a4a4a" font-weight="normal" text-anchor="start" textLength="135.6" lengthAdjust="spacingAndGlyphs" stroke="#fff" stroke-width="0.4" >RF Remote(Optional)</text>
<text x="605.2" y="1040.2" font-size="17.01" fill="#4a4a4a" font-weight="normal" text-anchor="start" textLength="34.0" lengthAdjust="spacingAndGlyphs" stroke="#fff" stroke-width="0.4" >30m</text>
<text x="405.6" y="1270.5" font-size="17.01" fill="#4a4a4a" font-weight="normal" text-anchor="start" textLength="175.1" lengthAdjust="spacingAndGlyphs" stroke="#fff" stroke-width="0.4" >Panel RF Remote(Optional)</text>
<text x="605.2" y="1223.7" font-size="17.01" fill="#4a4a4a" font-weight="normal" text-anchor="start" textLength="34.0" lengthAdjust="spacingAndGlyphs" stroke="#fff" stroke-width="0.4" >30m</text>
<rect x="348.4" y="767" width="42.6" height="83.2" rx="6" stroke="#333" stroke-width="1.8" fill="#fff" />
<rect x="351.6" y="776" width="36.5" height="64.6" rx="0" stroke="none" stroke-width="0" fill="#1c2440" />
<rect x="351.6" y="832" width="36.5" height="8.6" rx="0" stroke="none" stroke-width="0" fill="#0d0f18" />
<path d="M362.6,811.5 A11,11 0 1 1 376.4,811.5" stroke="#f1e7ae" stroke-width="3.4" fill="none" />
<circle cx="369.5" cy="802.7" r="5.8" stroke="none" stroke-width="0" fill="#a8b4dc" />
<circle cx="369.5" cy="845.4" r="2.3" stroke="#222" stroke-width="1.4" fill="none" />
<line x1="367" y1="771.5" x2="374" y2="771.5" stroke="#333" stroke-width="1.4" />
<circle cx="363" cy="771.6" r="0.8" stroke="none" stroke-width="0" fill="#333" />
<circle cx="375.5" cy="823" r="1.2" stroke="none" stroke-width="0" fill="#ddd" />
<line x1="356" y1="785" x2="364" y2="785" stroke="#8890b0" stroke-width="1.0" />
<path d="M394.99,765.91 A4.55,4.55 0 0 1 397.54,770.32" stroke="#9a9a9a" stroke-width="1.2" fill="none" stroke-linecap="round"/>
<path d="M396.88,762.05 A8.84,8.84 0 0 1 401.82,770.62" stroke="#9a9a9a" stroke-width="1.2" fill="none" stroke-linecap="round"/>
<path d="M398.70,758.32 A13.00,13.00 0 0 1 405.97,770.91" stroke="#9a9a9a" stroke-width="1.2" fill="none" stroke-linecap="round"/>
<path d="M580.99,779.91 A4.55,4.55 0 0 1 583.54,784.32" stroke="#9a9a9a" stroke-width="1.2" fill="none" stroke-linecap="round"/>
<path d="M582.88,776.05 A8.84,8.84 0 0 1 587.82,784.62" stroke="#9a9a9a" stroke-width="1.2" fill="none" stroke-linecap="round"/>
<path d="M584.70,772.32 A13.00,13.00 0 0 1 591.97,784.91" stroke="#9a9a9a" stroke-width="1.2" fill="none" stroke-linecap="round"/>
<path d="M543.92,1037.07 A4.38,4.38 0 0 1 546.36,1041.31" stroke="#9a9a9a" stroke-width="1.2" fill="none" stroke-linecap="round"/>
<path d="M545.73,1033.36 A8.50,8.50 0 0 1 550.48,1041.59" stroke="#9a9a9a" stroke-width="1.2" fill="none" stroke-linecap="round"/>
<path d="M547.48,1029.77 A12.50,12.50 0 0 1 554.47,1041.87" stroke="#9a9a9a" stroke-width="1.2" fill="none" stroke-linecap="round"/>
<path d="M528.92,1164.07 A4.38,4.38 0 0 1 531.36,1168.31" stroke="#9a9a9a" stroke-width="1.2" fill="none" stroke-linecap="round"/>
<path d="M530.73,1160.36 A8.50,8.50 0 0 1 535.48,1168.59" stroke="#9a9a9a" stroke-width="1.2" fill="none" stroke-linecap="round"/>
<path d="M532.48,1156.77 A12.50,12.50 0 0 1 539.47,1168.87" stroke="#9a9a9a" stroke-width="1.2" fill="none" stroke-linecap="round"/>
<path d="M536,698.5 A15.25,15.25 0 1 0 531,727.5" stroke="#8a8a8a" stroke-width="1.0" fill="none" />
<path d="M535.5,702 A17,17 0 0 1 567,698.5" stroke="#8a8a8a" stroke-width="1.0" fill="none" />
<path d="M558,704 A12.5,12.5 0 1 1 568,727" stroke="#8a8a8a" stroke-width="1.0" fill="none" />
<rect x="532.3" y="709.4" width="26" height="6" rx="3" stroke="#999" stroke-width="1.0" fill="#fff" />
<rect x="537.3" y="712" width="27.2" height="6" rx="3" stroke="#8a8a8a" stroke-width="1.1" fill="#fff" />
<circle cx="555.5" cy="715" r="0.7" stroke="none" stroke-width="0" fill="#333" />
<circle cx="558.3" cy="715" r="0.7" stroke="none" stroke-width="0" fill="#333" />
<circle cx="561.0" cy="715" r="0.7" stroke="none" stroke-width="0" fill="#333" />
<rect x="532.3" y="717.6999999999999" width="26" height="6" rx="3" stroke="#999" stroke-width="1.0" fill="#fff" />
<rect x="537.3" y="720.3" width="27.2" height="6" rx="3" stroke="#8a8a8a" stroke-width="1.1" fill="#fff" />
<circle cx="555.5" cy="723.3" r="0.7" stroke="none" stroke-width="0" fill="#333" />
<circle cx="558.3" cy="723.3" r="0.7" stroke="none" stroke-width="0" fill="#333" />
<circle cx="561.0" cy="723.3" r="0.7" stroke="none" stroke-width="0" fill="#333" />
<rect x="532.3" y="725.4" width="26" height="6" rx="3" stroke="#999" stroke-width="1.0" fill="#fff" />
<rect x="537.3" y="728" width="27.2" height="6" rx="3" stroke="#8a8a8a" stroke-width="1.1" fill="#fff" />
<circle cx="555.5" cy="731" r="0.7" stroke="none" stroke-width="0" fill="#333" />
<circle cx="558.3" cy="731" r="0.7" stroke="none" stroke-width="0" fill="#333" />
<circle cx="561.0" cy="731" r="0.7" stroke="none" stroke-width="0" fill="#333" />
<path d="M567.5,685.5 A9,9 0 0 1 576.5,694.5" stroke="#555" stroke-width="2.0" fill="none" />
<path d="M567.5,680 A14.5,14.5 0 0 1 582,694.5" stroke="#555" stroke-width="2.0" fill="none" />
<rect x="516.5" y="791" width="6.0" height="41" rx="3.0" stroke="#2a2a2a" stroke-width="1.3" fill="#fff" />
<rect x="544.0" y="791" width="6.0" height="41" rx="3.0" stroke="#2a2a2a" stroke-width="1.3" fill="#fff" />
<rect x="574.7" y="791" width="6.0" height="41" rx="3.0" stroke="#2a2a2a" stroke-width="1.3" fill="#fff" />
<path d="M506.2,831.2 L588,831.2 L591.7,837.4 L591.7,851.9 L499.3,851.9 L499.3,837.4 Z" stroke="#2a2a2a" stroke-width="1.5" fill="#fff" />
<line x1="499.3" y1="837.4" x2="591.7" y2="837.4" stroke="#2a2a2a" stroke-width="1.3" />
<circle cx="510.3" cy="844.7" r="1.1" stroke="none" stroke-width="0" fill="#222" />
<path d="M524.4,841.9 L532.4,841.9 L532.4,845.2 L529.9,848.6 L526.9,848.6 L524.4,845.2 Z" stroke="#2a2a2a" stroke-width="1.2" fill="none" />
<path d="M538.8,841.9 L546.8,841.9 L546.8,845.2 L544.3,848.6 L541.3,848.6 L538.8,845.2 Z" stroke="#2a2a2a" stroke-width="1.2" fill="none" />
<path d="M548.4,841.9 L556.4,841.9 L556.4,845.2 L553.9,848.6 L550.9,848.6 L548.4,845.2 Z" stroke="#2a2a2a" stroke-width="1.2" fill="none" />
<path d="M557.7,841.9 L565.7,841.9 L565.7,845.2 L563.2,848.6 L560.2,848.6 L557.7,845.2 Z" stroke="#2a2a2a" stroke-width="1.2" fill="none" />
<path d="M567.4,841.9 L575.4,841.9 L575.4,845.2 L572.9,848.6 L569.9,848.6 L567.4,845.2 Z" stroke="#2a2a2a" stroke-width="1.2" fill="none" />
<rect x="534.3" y="915.1" width="16.9" height="48.4" rx="0" stroke="#555" stroke-width="1.3" fill="#fff" />
<line x1="534.3" y1="919.2" x2="551.2" y2="919.2" stroke="#666" stroke-width="1.0" />
<line x1="534.3" y1="958.7" x2="551.2" y2="958.7" stroke="#666" stroke-width="1.0" />
<line x1="537.0" y1="937" x2="537.0" y2="958" stroke="#b5b5b5" stroke-width="0.45" />
<line x1="539.4" y1="937" x2="539.4" y2="958" stroke="#b5b5b5" stroke-width="0.45" />
<line x1="541.8" y1="937" x2="541.8" y2="958" stroke="#b5b5b5" stroke-width="0.45" />
<line x1="544.2" y1="937" x2="544.2" y2="958" stroke="#b5b5b5" stroke-width="0.45" />
<line x1="546.6" y1="937" x2="546.6" y2="958" stroke="#b5b5b5" stroke-width="0.45" />
<line x1="549.0" y1="937" x2="549.0" y2="958" stroke="#b5b5b5" stroke-width="0.45" />
<line x1="535" y1="938.0" x2="550" y2="938.0" stroke="#b5b5b5" stroke-width="0.45" />
<line x1="535" y1="940.4" x2="550" y2="940.4" stroke="#b5b5b5" stroke-width="0.45" />
<line x1="535" y1="942.8" x2="550" y2="942.8" stroke="#b5b5b5" stroke-width="0.45" />
<line x1="535" y1="945.2" x2="550" y2="945.2" stroke="#b5b5b5" stroke-width="0.45" />
<line x1="535" y1="947.6" x2="550" y2="947.6" stroke="#b5b5b5" stroke-width="0.45" />
<line x1="535" y1="950.0" x2="550" y2="950.0" stroke="#b5b5b5" stroke-width="0.45" />
<line x1="535" y1="952.4" x2="550" y2="952.4" stroke="#b5b5b5" stroke-width="0.45" />
<line x1="535" y1="954.8" x2="550" y2="954.8" stroke="#b5b5b5" stroke-width="0.45" />
<line x1="535" y1="957.2" x2="550" y2="957.2" stroke="#b5b5b5" stroke-width="0.45" />
<line x1="547.5" y1="919.2" x2="547.5" y2="958.7" stroke="#c5c5c5" stroke-width="0.6" />
<rect x="382.7" y="1015.7" width="22" height="79.6" rx="2.5" stroke="none" stroke-width="0" fill="#181818" />
<rect x="381.5" y="1015.2" width="24.4" height="4" rx="1.5" stroke="none" stroke-width="0" fill="#181818" />
<rect x="381.5" y="1092" width="24.4" height="3.6" rx="1.5" stroke="none" stroke-width="0" fill="#181818" />
<circle cx="393.7" cy="1036" r="5.4" stroke="#bdbdbd" stroke-width="5.2" fill="none" />
<circle cx="393.7" cy="1036" r="2.6" stroke="none" stroke-width="0" fill="#111" />
<rect x="386.5" y="1019.4" width="14.5" height="3.2" rx="1.6" stroke="#999" stroke-width="0.8" fill="none" />
<rect x="386.5" y="1047.9" width="14.5" height="3.2" rx="1.6" stroke="#999" stroke-width="0.8" fill="none" />
<rect x="386.5" y="1053.4" width="14.5" height="3.2" rx="1.6" stroke="#999" stroke-width="0.8" fill="none" />
<rect x="386.5" y="1059.4" width="14.5" height="3.2" rx="1.6" stroke="#999" stroke-width="0.8" fill="none" />
<rect x="386.5" y="1065.4" width="14.5" height="3.2" rx="1.6" stroke="#999" stroke-width="0.8" fill="none" />
<circle cx="388" cy="1076" r="1.8" stroke="#999" stroke-width="0.8" fill="none" />
<circle cx="393.7" cy="1076" r="1.8" stroke="#999" stroke-width="0.8" fill="none" />
<circle cx="399.4" cy="1076" r="1.8" stroke="#999" stroke-width="0.8" fill="none" />
<rect x="411.2" y="1021.6" width="26.8" height="73.1" rx="4" stroke="none" stroke-width="0" fill="#232323" />
<circle cx="424.6" cy="1036.5" r="6.3" stroke="#bdbdbd" stroke-width="7.0" fill="none" />
<circle cx="424.6" cy="1036.5" r="2.6" stroke="none" stroke-width="0" fill="#111" />
<circle cx="417.5" cy="1051" r="2.0" stroke="#8a8a8a" stroke-width="0.7" fill="none" />
<circle cx="424.6" cy="1051" r="2.0" stroke="#8a8a8a" stroke-width="0.7" fill="none" />
<circle cx="431.7" cy="1051" r="2.0" stroke="#8a8a8a" stroke-width="0.7" fill="none" />
<circle cx="417.5" cy="1057" r="2.0" stroke="#8a8a8a" stroke-width="0.7" fill="none" />
<circle cx="424.6" cy="1057" r="2.0" stroke="#8a8a8a" stroke-width="0.7" fill="none" />
<circle cx="431.7" cy="1057" r="2.0" stroke="#8a8a8a" stroke-width="0.7" fill="none" />
<circle cx="417.5" cy="1063" r="2.0" stroke="#8a8a8a" stroke-width="0.7" fill="none" />
<circle cx="424.6" cy="1063" r="2.0" stroke="#8a8a8a" stroke-width="0.7" fill="none" />
<circle cx="431.7" cy="1063" r="2.0" stroke="#8a8a8a" stroke-width="0.7" fill="none" />
<circle cx="417.5" cy="1070" r="2.0" stroke="#8a8a8a" stroke-width="0.7" fill="none" />
<circle cx="424.6" cy="1070" r="2.0" stroke="#8a8a8a" stroke-width="0.7" fill="none" />
<circle cx="431.7" cy="1070" r="2.0" stroke="#8a8a8a" stroke-width="0.7" fill="none" />
<circle cx="424.6" cy="1077.5" r="3" stroke="#8a8a8a" stroke-width="0.7" fill="none" />
<rect x="440.9" y="1025.8" width="20.8" height="68.9" rx="3.5" stroke="none" stroke-width="0" fill="#272727" />
<rect x="443.5" y="1060" width="6.5" height="4" rx="0.5" stroke="#8a8a8a" stroke-width="0.7" fill="none" />
<rect x="452.5" y="1060" width="6.5" height="4" rx="0.5" stroke="#8a8a8a" stroke-width="0.7" fill="none" />
<rect x="443.5" y="1071" width="6.5" height="4" rx="0.5" stroke="#8a8a8a" stroke-width="0.7" fill="none" />
<rect x="452.5" y="1071" width="6.5" height="4" rx="0.5" stroke="#8a8a8a" stroke-width="0.7" fill="none" />
<rect x="467.6" y="1032.3" width="29.7" height="62.4" rx="5" stroke="none" stroke-width="0" fill="#4a4a4a" />
<rect x="467.0" y="1066" width="30.9" height="28.7" rx="4" stroke="none" stroke-width="0" fill="#3d3d3d" />
<circle cx="482.2" cy="1050.1" r="6.0" stroke="#c4c4c4" stroke-width="6.4" fill="none" />
<circle cx="482.2" cy="1050.1" r="2.8" stroke="none" stroke-width="0" fill="#3a3a3a" />
<rect x="507.3" y="1041.6" width="28.8" height="52.5" rx="4" stroke="#b0b0b0" stroke-width="1.0" fill="#fff" />
<circle cx="521.6" cy="1062" r="11" stroke="#b0b0b0" stroke-width="1.0" fill="none" />
<circle cx="521.6" cy="1062" r="5.2" stroke="#b0b0b0" stroke-width="1.0" fill="none" />
<circle cx="512.5" cy="1046.5" r="1.8" stroke="#aaa" stroke-width="0.8" fill="none" />
<circle cx="512.5" cy="1077" r="1.8" stroke="#aaa" stroke-width="0.8" fill="none" />
<circle cx="521.7" cy="1046.5" r="1.8" stroke="#aaa" stroke-width="0.8" fill="none" />
<circle cx="521.7" cy="1077" r="1.8" stroke="#aaa" stroke-width="0.8" fill="none" />
<circle cx="530.9" cy="1046.5" r="1.8" stroke="#aaa" stroke-width="0.8" fill="none" />
<circle cx="530.9" cy="1077" r="1.8" stroke="#aaa" stroke-width="0.8" fill="none" />
<circle cx="512.5" cy="1085" r="1.8" stroke="#aaa" stroke-width="0.8" fill="none" />
<circle cx="518.6" cy="1085" r="1.8" stroke="#aaa" stroke-width="0.8" fill="none" />
<circle cx="524.8" cy="1085" r="1.8" stroke="#aaa" stroke-width="0.8" fill="none" />
<circle cx="530.9" cy="1085" r="1.8" stroke="#aaa" stroke-width="0.8" fill="none" />
<rect x="448.1" y="1169.8" width="77.6" height="77.4" rx="0" stroke="#222" stroke-width="2.0" fill="#fff" />
<defs><linearGradient id="sl" x1="0" y1="0" x2="0" y2="1"><stop offset="0" stop-color="#fff"/><stop offset="1" stop-color="#000"/></linearGradient></defs>
<path d="M486.3,1178.5 L487.7,1178.5 L488.6,1237 L485.4,1237 Z" stroke="none" stroke-width="0" fill="url(#sl)" />
<text x="459.9" y="1186.5" font-size="7.56" fill="#333" font-weight="bold" text-anchor="middle" >1</text>
<text x="513.8" y="1186.5" font-size="7.56" fill="#333" font-weight="bold" text-anchor="middle" >Ω</text>
<line x1="457" y1="1188.3" x2="462.8" y2="1188.3" stroke="#555" stroke-width="0.7" />
<line x1="511" y1="1188.3" x2="516.6" y2="1188.3" stroke="#555" stroke-width="0.7" />
<text x="459.9" y="1203.0" font-size="7.56" fill="#333" font-weight="bold" text-anchor="middle" >2</text>
<text x="513.8" y="1203.0" font-size="7.56" fill="#333" font-weight="bold" text-anchor="middle" >1</text>
<line x1="457" y1="1204.8" x2="462.8" y2="1204.8" stroke="#555" stroke-width="0.7" />
<line x1="511" y1="1204.8" x2="516.6" y2="1204.8" stroke="#555" stroke-width="0.7" />
<text x="459.9" y="1219.6" font-size="7.56" fill="#333" font-weight="bold" text-anchor="middle" >3</text>
<text x="513.8" y="1219.6" font-size="7.56" fill="#333" font-weight="bold" text-anchor="middle" >2</text>
<line x1="457" y1="1221.3999999999999" x2="462.8" y2="1221.3999999999999" stroke="#555" stroke-width="0.7" />
<line x1="511" y1="1221.3999999999999" x2="516.6" y2="1221.3999999999999" stroke="#555" stroke-width="0.7" />
<text x="459.9" y="1236.3" font-size="7.56" fill="#333" font-weight="bold" text-anchor="middle" >4</text>
<text x="513.8" y="1236.3" font-size="7.56" fill="#333" font-weight="bold" text-anchor="middle" >3</text>
<line x1="457" y1="1238.1" x2="462.8" y2="1238.1" stroke="#555" stroke-width="0.7" />
<line x1="511" y1="1238.1" x2="516.6" y2="1238.1" stroke="#555" stroke-width="0.7" />
<line x1="324.4" y1="1321.3" x2="370.4" y2="1321.3" stroke="#111" stroke-width="3.2" />
<path d="M324.4,1355 L370.4,1355" stroke="#4a4a4a" stroke-width="3.2" fill="none" stroke-dasharray="4.4 1.6"/>
<text x="389.1" y="1325.0" font-size="23.26" fill="#555" font-weight="normal" text-anchor="start" textLength="168.6" lengthAdjust="spacingAndGlyphs" stroke="#fff" stroke-width="0.45" >Wired connection</text>
<text x="389.1" y="1363.5" font-size="23.26" fill="#555" font-weight="normal" text-anchor="start" textLength="188.3" lengthAdjust="spacingAndGlyphs" stroke="#fff" stroke-width="0.45" >Wireless connection</text>
<text x="313.4" y="1401.0" font-size="20.35" fill="#4a4a4a" font-weight="normal" text-anchor="start" textLength="50.0" lengthAdjust="spacingAndGlyphs" stroke="#fff" stroke-width="0.4" >Note:</text>
<text x="314.5" y="1432.5" font-size="21.80" fill="#333" font-weight="normal" text-anchor="start" textLength="619.7" lengthAdjust="spacingAndGlyphs" stroke="#fff" stroke-width="0.4" >1. The above distance is measured in spacious (no obstacle) environment,</text>
<text x="338.3" y="1461.2" font-size="21.80" fill="#333" font-weight="normal" text-anchor="start" textLength="476.7" lengthAdjust="spacingAndGlyphs" stroke="#fff" stroke-width="0.4" >Please refer to the actual test distance before installation.</text>
<text x="313.8" y="1490.5" font-size="21.80" fill="#333" font-weight="normal" text-anchor="start" textLength="980.8" lengthAdjust="spacingAndGlyphs" stroke="#fff" stroke-width="0.4" >2. Please check if the WiFi router net in 2.4G band, the 5G band is not available, and do not hide your router network.</text>
<text x="313.8" y="1521.2" font-size="21.80" fill="#333" font-weight="normal" text-anchor="start" textLength="798.1" lengthAdjust="spacingAndGlyphs" stroke="#fff" stroke-width="0.4" >3. Please keep the distance between WT1 devices and router close, and check the WiFi signals.</text>
</svg>
</body></html>
